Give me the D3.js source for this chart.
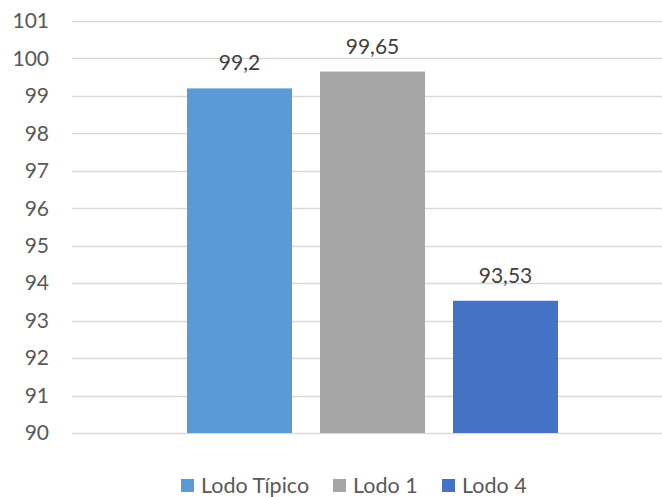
<!DOCTYPE html>
<html>
<head>
<meta charset="utf-8">
<script src="https://cdn.jsdelivr.net/npm/d3@7"></script>
<style>
  html, body { margin: 0; padding: 0; background: #fff; }
  svg { display: block; font-family: Lato, "Open Sans", sans-serif; }
</style>
</head>
<body>
<svg id="chart" width="662" height="497"></svg>
<script>
// Series shown as bars within a single category
const seriesNames = ["Lodo Típico", "Lodo 1", "Lodo 4"];
const seriesValues = [99.2, 99.65, 93.53];
const seriesLabels = ["99,2", "99,65", "93,53"];
const seriesColors = ["#5B9BD5", "#A5A5A5", "#4472C4"];
const yTicks = [90, 91, 92, 93, 94, 95, 96, 97, 98, 99, 100, 101];

const svg = d3.select("#chart");
const plot = { left: 72, right: 673, top: 21, bottom: 433 };

const y = d3.scaleLinear().domain([90, 101]).range([plot.bottom, plot.top]);

// Band for the series within the one category
const x = d3.scaleBand()
  .domain(seriesNames)
  .range([187, 558])
  .paddingInner(28 / 133)
  .paddingOuter(0);

// Gridlines
svg.append("g")
  .selectAll("line")
  .data(yTicks)
  .join("line")
  .attr("x1", plot.left).attr("x2", plot.right)
  .attr("y1", d => Math.round(y(d)) + 0.5)
  .attr("y2", d => Math.round(y(d)) + 0.5)
  .attr("stroke", "#D9D9D9")
  .attr("stroke-width", 1.3);

// Y axis labels
const yAxis = d3.axisLeft(y).tickValues(yTicks).tickSize(0).tickPadding(0);
const gy = svg.append("g").attr("transform", `translate(49,0)`).call(yAxis);
gy.select(".domain").remove();
gy.selectAll("text")
  .attr("fill", "#595959")
  .attr("font-size", 21)
  .attr("font-family", "Lato, 'Open Sans', sans-serif");

// Bars
const n = seriesNames.length;
svg.append("g")
  .selectAll("rect")
  .data(d3.range(n))
  .join("rect")
  .attr("x", i => x(seriesNames[i]))
  .attr("width", x.bandwidth())
  .attr("y", i => y(seriesValues[i]))
  .attr("height", i => y(90) - y(seriesValues[i]))
  .attr("fill", i => seriesColors[i]);

// Value labels
svg.append("g")
  .selectAll("text")
  .data(d3.range(n))
  .join("text")
  .attr("x", i => x(seriesNames[i]) + x.bandwidth() / 2)
  .attr("y", i => y(seriesValues[i]) - 18)
  .attr("text-anchor", "middle")
  .attr("fill", "#404040")
  .attr("font-size", 21)
  .text(i => seriesLabels[i]);

// Legend
const legendX = [181, 333, 442];
const legend = svg.append("g");
const items = legend.selectAll("g")
  .data(d3.range(n))
  .join("g")
  .attr("transform", i => `translate(${legendX[i]},479)`);
items.append("rect")
  .attr("width", 13).attr("height", 13)
  .attr("fill", i => seriesColors[i]);
items.append("text")
  .attr("x", 20).attr("y", 14)
  .attr("fill", "#595959")
  .attr("font-size", 21.5)
  .text(i => seriesNames[i]);
</script>
</body>
</html>
